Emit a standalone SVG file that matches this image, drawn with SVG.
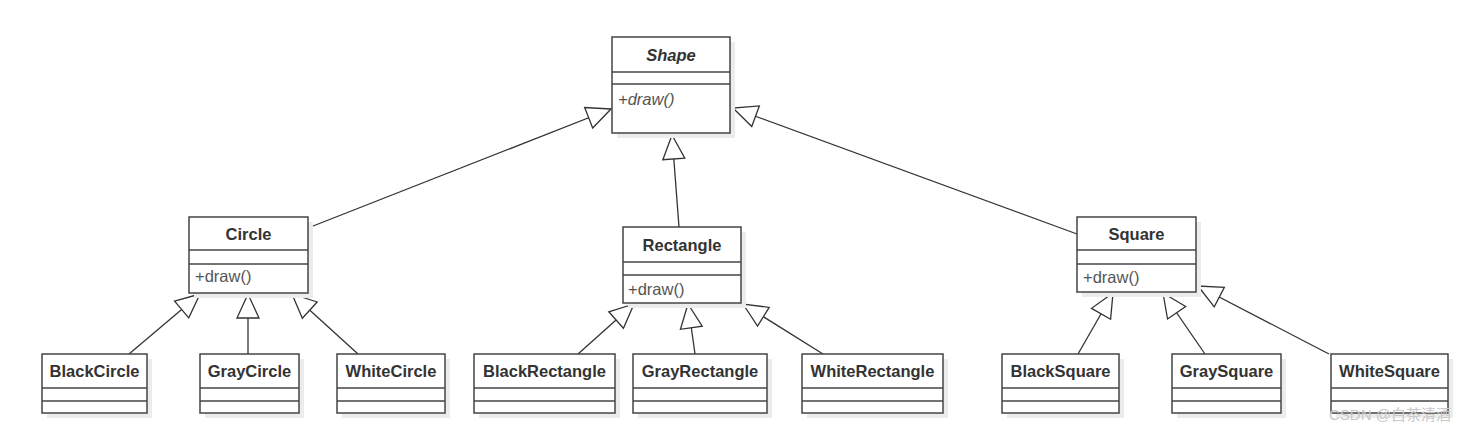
<svg xmlns="http://www.w3.org/2000/svg" width="1481" height="433" viewBox="0 0 1481 433">
<style>
.sh{fill:#ececec;stroke:none}
.bx{fill:#fff;stroke:#444;stroke-width:1.5}
.dv{stroke:#444;stroke-width:1.5}
.nm{font-family:"Liberation Sans",Arial,sans-serif;font-weight:bold;font-size:16.5px;fill:#333;text-anchor:middle;dominant-baseline:central}
.op{font-family:"Liberation Sans",Arial,sans-serif;font-size:16.5px;fill:#555;dominant-baseline:central}
.it{font-style:italic}
.cn{fill:none;stroke:#333;stroke-width:1.3;marker-end:url(#tri)}
.wm{font-family:"Liberation Sans","Noto Sans CJK SC",sans-serif;font-size:15px;fill:#c8c8c8}
</style>
<defs>
<marker id="tri" viewBox="-26 -13 28 26" markerWidth="28" markerHeight="26" refX="0" refY="0" orient="auto" markerUnits="userSpaceOnUse">
<path d="M0,0 L-24,-11 L-24,11 Z" fill="#fff" stroke="#333" stroke-width="1.3"/>
</marker>
</defs>
<rect width="1481" height="433" fill="#fff"/>
<g id="connectors">
<line class="cn" x1="308" y1="228" x2="611" y2="109"/>
<line class="cn" x1="679" y1="227" x2="672" y2="135"/>
<line class="cn" x1="1077" y1="234" x2="733" y2="108"/>
<line class="cn" x1="129" y1="354" x2="200" y2="294"/>
<line class="cn" x1="248" y1="354" x2="248" y2="294"/>
<line class="cn" x1="358" y1="354" x2="292" y2="294"/>
<line class="cn" x1="578" y1="354" x2="634" y2="304"/>
<line class="cn" x1="695" y1="354" x2="688" y2="304"/>
<line class="cn" x1="823" y1="354" x2="743" y2="304"/>
<line class="cn" x1="1078" y1="354" x2="1113" y2="293"/>
<line class="cn" x1="1205" y1="354" x2="1163" y2="293"/>
<line class="cn" x1="1329" y1="354" x2="1198" y2="286"/>
</g>
<g id="Shape">
<rect class="sh" x="617" y="42" width="118" height="96"/>
<rect class="bx" x="612" y="37" width="118" height="96"/>
<line class="dv" x1="612" y1="72" x2="730" y2="72"/>
<line class="dv" x1="612" y1="84" x2="730" y2="84"/>
<text class="nm it" x="671" y="55">Shape</text>
<text class="op it" x="618" y="99">+draw()</text>
</g>
<g id="Circle">
<rect class="sh" x="194" y="222" width="119" height="76"/>
<rect class="bx" x="189" y="217" width="119" height="76"/>
<line class="dv" x1="189" y1="250" x2="308" y2="250"/>
<line class="dv" x1="189" y1="264" x2="308" y2="264"/>
<text class="nm" x="248.5" y="234">Circle</text>
<text class="op" x="195" y="276">+draw()</text>
</g>
<g id="Rectangle">
<rect class="sh" x="628" y="232" width="118" height="76"/>
<rect class="bx" x="623" y="227" width="118" height="76"/>
<line class="dv" x1="623" y1="262" x2="741" y2="262"/>
<line class="dv" x1="623" y1="275" x2="741" y2="275"/>
<text class="nm" x="682" y="245">Rectangle</text>
<text class="op" x="628" y="289">+draw()</text>
</g>
<g id="Square">
<rect class="sh" x="1082" y="222" width="119" height="75"/>
<rect class="bx" x="1077" y="217" width="119" height="75"/>
<line class="dv" x1="1077" y1="250" x2="1196" y2="250"/>
<line class="dv" x1="1077" y1="264" x2="1196" y2="264"/>
<text class="nm" x="1136.5" y="234">Square</text>
<text class="op" x="1083" y="277">+draw()</text>
</g>
<g id="BlackCircle">
<rect class="sh" x="47" y="359" width="105" height="59"/>
<rect class="bx" x="42" y="354" width="105" height="59"/>
<line class="dv" x1="42" y1="388" x2="147" y2="388"/>
<line class="dv" x1="42" y1="401" x2="147" y2="401"/>
<text class="nm" x="94.5" y="371">BlackCircle</text>
</g>
<g id="GrayCircle">
<rect class="sh" x="205" y="359" width="99" height="59"/>
<rect class="bx" x="200" y="354" width="99" height="59"/>
<line class="dv" x1="200" y1="388" x2="299" y2="388"/>
<line class="dv" x1="200" y1="401" x2="299" y2="401"/>
<text class="nm" x="249.5" y="371">GrayCircle</text>
</g>
<g id="WhiteCircle">
<rect class="sh" x="342" y="359" width="108" height="59"/>
<rect class="bx" x="337" y="354" width="108" height="59"/>
<line class="dv" x1="337" y1="388" x2="445" y2="388"/>
<line class="dv" x1="337" y1="401" x2="445" y2="401"/>
<text class="nm" x="391" y="371">WhiteCircle</text>
</g>
<g id="BlackRectangle">
<rect class="sh" x="479" y="359" width="141" height="59"/>
<rect class="bx" x="474" y="354" width="141" height="59"/>
<line class="dv" x1="474" y1="388" x2="615" y2="388"/>
<line class="dv" x1="474" y1="401" x2="615" y2="401"/>
<text class="nm" x="544.5" y="371">BlackRectangle</text>
</g>
<g id="GrayRectangle">
<rect class="sh" x="638" y="359" width="134" height="59"/>
<rect class="bx" x="633" y="354" width="134" height="59"/>
<line class="dv" x1="633" y1="388" x2="767" y2="388"/>
<line class="dv" x1="633" y1="401" x2="767" y2="401"/>
<text class="nm" x="700" y="371">GrayRectangle</text>
</g>
<g id="WhiteRectangle">
<rect class="sh" x="807" y="359" width="141" height="59"/>
<rect class="bx" x="802" y="354" width="141" height="59"/>
<line class="dv" x1="802" y1="388" x2="943" y2="388"/>
<line class="dv" x1="802" y1="401" x2="943" y2="401"/>
<text class="nm" x="872.5" y="371">WhiteRectangle</text>
</g>
<g id="BlackSquare">
<rect class="sh" x="1007" y="359" width="117" height="59"/>
<rect class="bx" x="1002" y="354" width="117" height="59"/>
<line class="dv" x1="1002" y1="388" x2="1119" y2="388"/>
<line class="dv" x1="1002" y1="401" x2="1119" y2="401"/>
<text class="nm" x="1060.5" y="371">BlackSquare</text>
</g>
<g id="GraySquare">
<rect class="sh" x="1177" y="359" width="109" height="59"/>
<rect class="bx" x="1172" y="354" width="109" height="59"/>
<line class="dv" x1="1172" y1="388" x2="1281" y2="388"/>
<line class="dv" x1="1172" y1="401" x2="1281" y2="401"/>
<text class="nm" x="1226.5" y="371">GraySquare</text>
</g>
<g id="WhiteSquare">
<rect class="sh" x="1336" y="359" width="117" height="59"/>
<rect class="bx" x="1331" y="354" width="117" height="59"/>
<line class="dv" x1="1331" y1="388" x2="1448" y2="388"/>
<line class="dv" x1="1331" y1="401" x2="1448" y2="401"/>
<text class="nm" x="1389.5" y="371">WhiteSquare</text>
</g>
<text class="wm" x="1329" y="420">CSDN @白茶清酒</text>
</svg>
